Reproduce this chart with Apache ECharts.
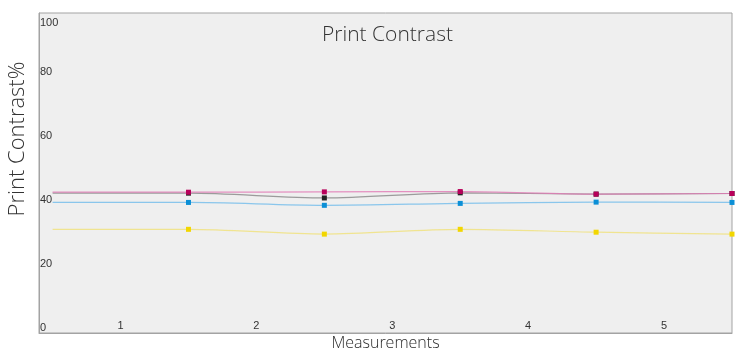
<!DOCTYPE html>
<html>
<head>
<meta charset="utf-8">
<script src="https://cdn.jsdelivr.net/npm/echarts@6/dist/echarts.min.js"></script>
<style>
  html, body { margin: 0; padding: 0; background: #fff; }
  #chart { width: 742px; height: 350px; }
</style>
</head>
<body>
<div id="chart"></div>
<script>
// x positions: line starts at 0.5, measurements drawn at 1.5 .. 5.5
var xPositions = [0.5, 1.5, 2.5, 3.5, 4.5, 5.5];
var xTickLabels = [1, 2, 3, 4, 5];
var yTickValues = [0, 20, 40, 60, 80, 100];

// print contrast % per ink
var magenta = [44.0, 44.0, 44.1, 44.2, 43.4, 43.6];
var black = [43.7, 43.7, 42.2, 43.8, 43.4, 43.6];
var cyan = [40.8, 40.8, 39.9, 40.5, 40.9, 40.8];
var yellow = [32.4, 32.4, 30.9, 32.4, 31.5, 30.9];

function toPoints(values) {
  // first point only anchors the line, no marker
  return values.map(function (v, i) {
    var p = { value: [xPositions[i], v] };
    if (i === 0) p.symbol = "none";
    return p;
  });
}

function makeSeries(name, values, lineColor, markColor) {
  return {
    name: name,
    type: "line",
    smooth: 0.3,
    data: toPoints(values),
    symbol: "rect",
    symbolSize: 5,
    showAllSymbol: true,
    lineStyle: { width: 1.2, color: lineColor },
    itemStyle: { color: markColor },
    emphasis: { disabled: true }
  };
}

var option = {
  animation: false,
  title: {
    text: "Print Contrast",
    left: 317,
    top: 20,
    textStyle: {
      fontFamily: "Open Sans",
      fontSize: 21,
      fontWeight: 300,
      color: "#333"
    }
  },
  grid: {
    left: 39,
    right: 10,
    top: 13,
    bottom: 17,
    outerBoundsMode: "none",
    containLabel: false,
    show: true,
    backgroundColor: "#efefef",
    borderColor: "#a3a3a3",
    borderWidth: 1
  },
  xAxis: {
    type: "value",
    min: 0.4,
    max: 5.5,
    name: "Measurements",
    nameLocation: "middle",
    nameGap: 2,
    nameMoveOverlap: false,
    nameTextStyle: {
      fontFamily: "Open Sans",
      fontSize: 16,
      lineHeight: 16,
      fontWeight: 300,
      color: "#2a2a2a",
      verticalAlign: "top"
    },
    axisLine: { show: true, lineStyle: { color: "#a3a3a3" } },
    axisTick: { show: false },
    splitLine: { show: false },
    axisLabel: {
      inside: true,
      margin: 2,
      customValues: xTickLabels,
      fontFamily: "Liberation Sans",
      fontSize: 11,
      color: "#333"
    }
  },
  yAxis: {
    type: "value",
    min: 0,
    max: 100,
    name: "Print Contrast%",
    nameLocation: "middle",
    nameGap: 9,
    nameTextStyle: {
      fontFamily: "Open Sans",
      fontSize: 22,
      fontWeight: 300,
      color: "#333",
      padding: [0, 0, 0, 68]
    },
    axisLine: { show: true, lineStyle: { color: "#a3a3a3" } },
    axisTick: { show: false },
    splitLine: { show: false },
    axisLabel: {
      inside: true,
      margin: 1,
      customValues: yTickValues,
      verticalAlign: "bottom",
      verticalAlignMaxLabel: "top",
      fontFamily: "Liberation Sans",
      fontSize: 11,
      color: "#333",
      formatter: function (v) {
        return v === 100 ? "{top|100}" : String(v);
      },
      rich: {
        top: { fontFamily: "Liberation Sans", fontSize: 11, color: "#333", padding: [4, 0, 0, 0] }
      }
    }
  },
  series: [
    makeSeries("Yellow", yellow, "rgba(240,225,120,0.8)", "#f2d600"),
    makeSeries("Cyan", cyan, "rgba(120,190,235,0.85)", "#0b8fd6"),
    makeSeries("Black", black, "rgba(140,140,140,0.85)", "#222"),
    makeSeries("Magenta", magenta, "rgba(225,120,180,0.8)", "#b8005a")
  ]
};

var chart = echarts.init(document.getElementById("chart"));
chart.setOption(option);
</script>
</body>
</html>
